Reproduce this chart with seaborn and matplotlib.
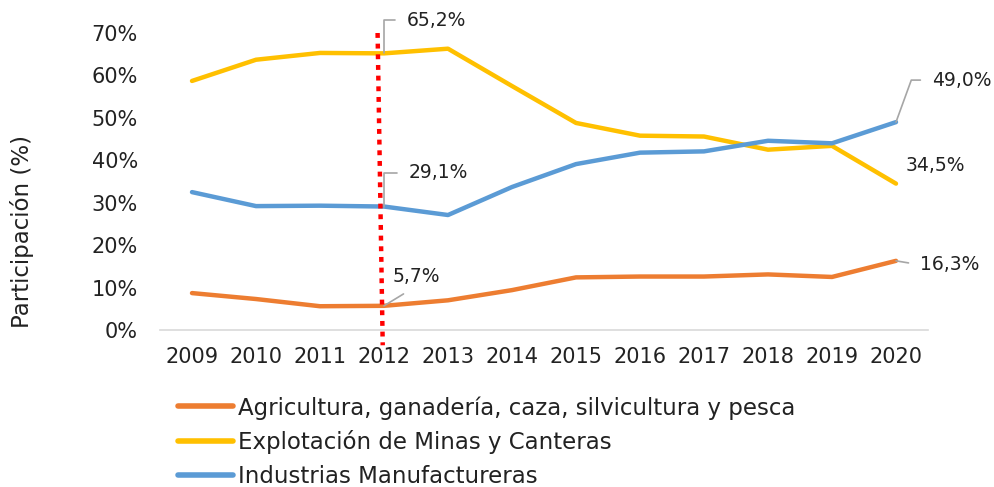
import pandas as pd
import matplotlib
matplotlib.use("Agg")
import matplotlib.pyplot as plt
import seaborn as sns

# datos (participación en %)
anios = [2009, 2010, 2011, 2012, 2013, 2014, 2015, 2016, 2017, 2018, 2019, 2020]
agricultura = [8.7, 7.3, 5.6, 5.7, 7.0, 9.4, 12.4, 12.6, 12.6, 13.1, 12.5, 16.3]
minas = [58.7, 63.7, 65.3, 65.2, 66.3, 57.5, 48.8, 45.8, 45.6, 42.5, 43.4, 34.5]
manufactura = [32.5, 29.2, 29.3, 29.1, 27.1, 33.7, 39.1, 41.8, 42.1, 44.6, 44.0, 49.0]

sectores = ['Agricultura, ganadería, caza, silvicultura y pesca',
            'Explotación de Minas y Canteras',
            'Industrias Manufactureras']
colores = ['#ED7D31', '#FFC000', '#5B9BD5']

df = pd.DataFrame({
    'Año': anios * 3,
    'Participación': agricultura + minas + manufactura,
    'Sector': [sectores[0]] * len(anios) + [sectores[1]] * len(anios) + [sectores[2]] * len(anios),
})

sns.set_theme(style='white')
plt.rcParams['font.family'] = ['DejaVu Sans']
texto = '#222222'

fig = plt.figure(figsize=(9.95, 4.87), dpi=100)
ax = fig.add_axes([160 / 995, 1 - 330 / 487, 768 / 995, 297 / 487])

sns.lineplot(data=df, x='Año', y='Participación', hue='Sector', hue_order=sectores,
             palette=colores, linewidth=3.2, ax=ax, legend=False,
             solid_capstyle='round')

# linea vertical 2012
ax.plot([2011.9, 2011.98], [70, -3.6], color='red', linestyle=(0, (1.1, 1.3)),
        linewidth=3.2, clip_on=False, zorder=5)

ax.set_xlim(2008.5, 2020.5)
ax.set_ylim(0, 70)
ax.set_xticks(anios)
ax.set_yticks(range(0, 71, 10))
ax.set_yticklabels([f'{v}%' for v in range(0, 71, 10)])
ax.tick_params(axis='x', length=0, pad=12, labelsize=15, labelcolor=texto)
ax.tick_params(axis='y', length=0, pad=16, labelsize=15, labelcolor=texto)
for s in ['top', 'right', 'left']:
    ax.spines[s].set_visible(False)
ax.spines['bottom'].set_color('#d9d9d9')
ax.spines['bottom'].set_linewidth(1.2)
ax.set_xlabel('')
ax.set_ylabel('Participación (%)', fontsize=16.5, color=texto)
ax.yaxis.set_label_coords((34 - 160) / 768, (330 - 232) / 297)

# etiquetas de datos
gris = '#a6a6a6'
def etiqueta(x, y, txt, dx, dy, estilo=None, ha='left', relpos=(0, 0.5)):
    props = None
    if estilo is not None:
        props = dict(arrowstyle='-', color=gris, lw=1.2, shrinkA=6, shrinkB=0,
                     connectionstyle=estilo, relpos=relpos)
    ax.annotate(txt, xy=(x, y), xytext=(dx, dy), textcoords='offset pixels',
                ha=ha, va='center', fontsize=13.5, color=texto, arrowprops=props,
                annotation_clip=False)

etiqueta(2012, minas[3], '65,2%', 23, 33, 'angle,angleA=0,angleB=90,rad=0')
etiqueta(2012, manufactura[3], '29,1%', 25, 34, 'angle,angleA=0,angleB=90,rad=0')
etiqueta(2012, agricultura[3], '5,7%', 32, 29, 'arc3', ha='center', relpos=(0.5, 0))
etiqueta(2020, manufactura[-1], '49,0%', 36, 42, 'angle,angleA=0,angleB=70,rad=0')
etiqueta(2020, minas[-1], '34,5%', 10, 18)
etiqueta(2020, agricultura[-1], '16,3%', 24, -4, 'arc3')

handles = [plt.Line2D([], [], color=c, linewidth=4, solid_capstyle='round') for c in colores]
fig.legend(handles, sectores, loc='upper left', bbox_to_anchor=(178 / 995, 1 - 396 / 487),
           frameon=False, fontsize=16.5, handlelength=2.4, handletextpad=0.22,
           labelspacing=0.46, borderpad=0, borderaxespad=0, labelcolor=texto)

fig.savefig('out.png', dpi=100)
